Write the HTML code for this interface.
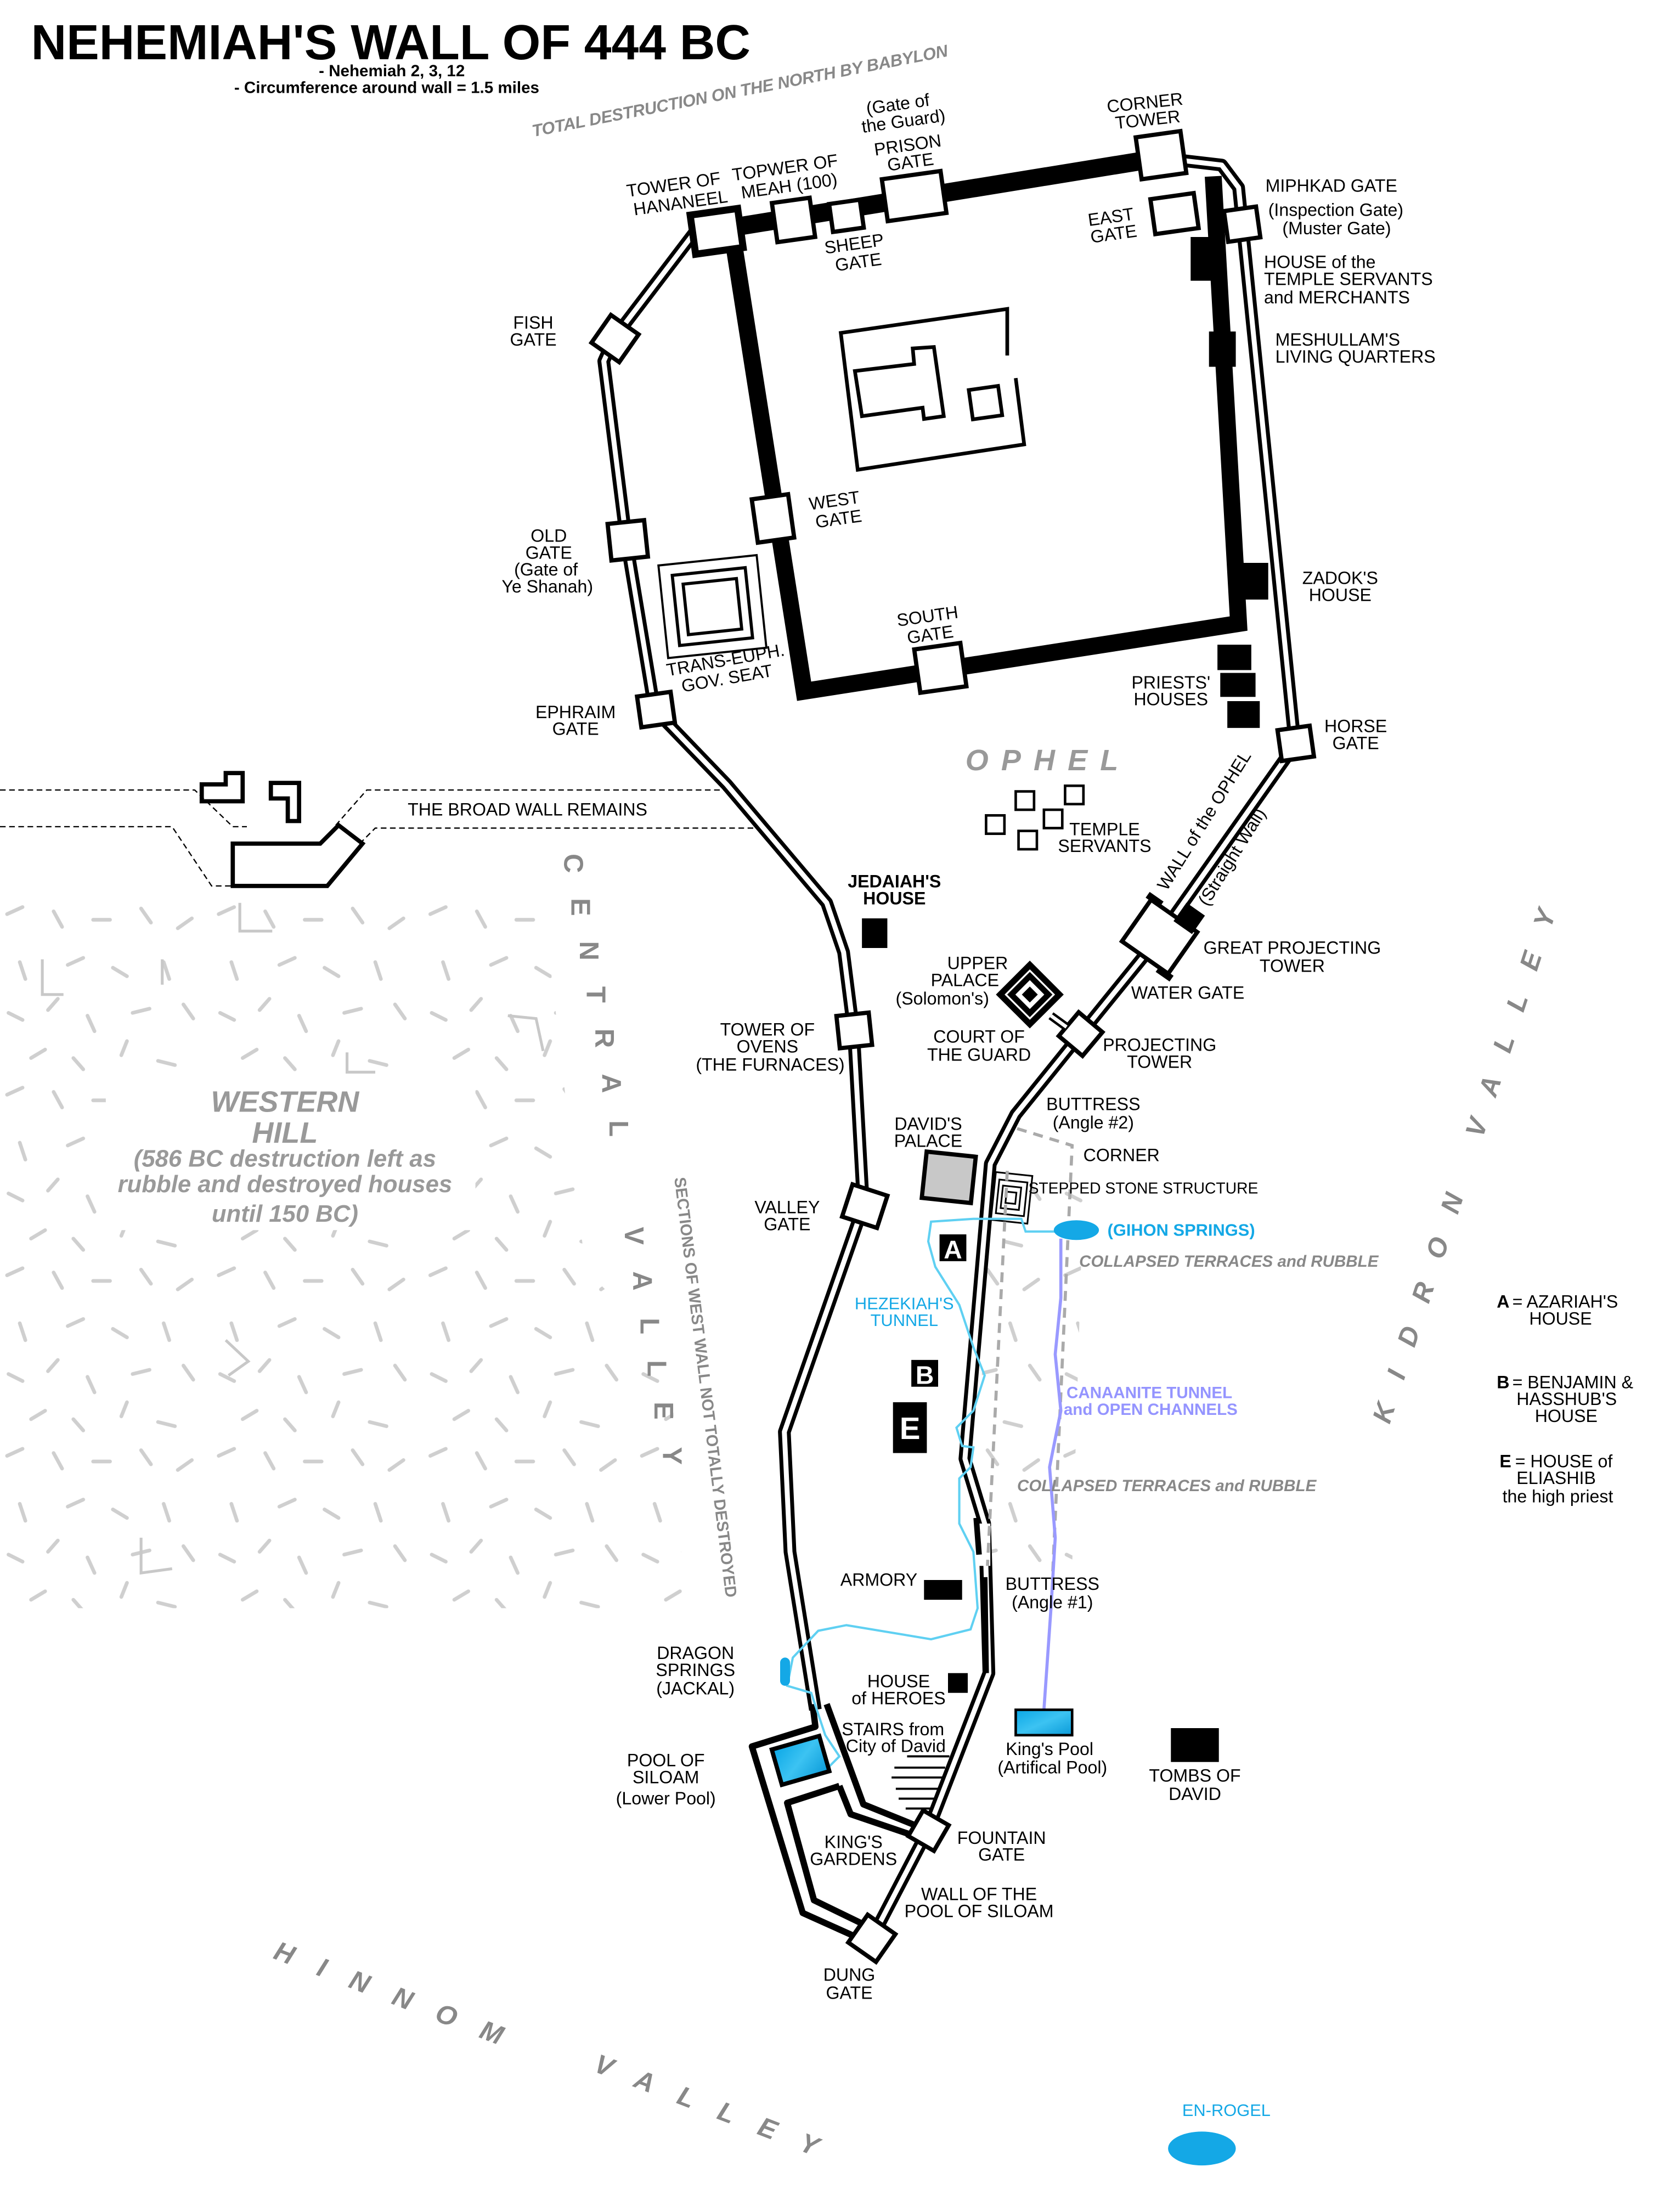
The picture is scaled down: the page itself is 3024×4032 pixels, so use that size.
<!DOCTYPE html>
<html><head><meta charset="utf-8"><style>
html,body{margin:0;padding:0;background:#fff}
svg{display:block}
text{font-family:"Liberation Sans",Arial,sans-serif}
</style></head><body>
<svg width="3024" height="4032" viewBox="0 0 1176 1568" xmlns="http://www.w3.org/2000/svg">
<rect width="1176" height="1568" fill="#fff"/>
<defs>
<linearGradient id="wat" x1="0" y1="0" x2="1" y2="1"><stop offset="0" stop-color="#0aa7e6"/><stop offset="0.5" stop-color="#3cc3f2"/><stop offset="1" stop-color="#0a9ad8"/></linearGradient>
<pattern id="rp" width="150" height="128" patternUnits="userSpaceOnUse">
<g stroke="#cfcfcf" stroke-width="2.6" stroke-linecap="round" fill="none">
<line x1="5" y1="8" x2="16" y2="3"/><line x1="38" y1="6" x2="44" y2="17"/><line x1="66" y1="12" x2="78" y2="12"/>
<line x1="100" y1="4" x2="107" y2="14"/><line x1="126" y1="18" x2="136" y2="11"/><line x1="14" y1="42" x2="18" y2="54"/>
<line x1="48" y1="44" x2="59" y2="39"/><line x1="80" y1="46" x2="90" y2="52"/><line x1="116" y1="42" x2="120" y2="54"/>
<line x1="6" y1="78" x2="16" y2="83"/><line x1="34" y1="76" x2="41" y2="68"/><line x1="62" y1="80" x2="67" y2="91"/>
<line x1="94" y1="78" x2="106" y2="75"/><line x1="130" y1="72" x2="137" y2="82"/><line x1="22" y1="110" x2="32" y2="104"/>
<line x1="52" y1="110" x2="59" y2="118"/><line x1="86" y1="108" x2="90" y2="98"/><line x1="112" y1="112" x2="124" y2="115"/>
</g>
</pattern>
</defs>

<!-- rubble -->
<path d="M0 640 L385 640 L415 900 L475 960 L485 1140 L0 1140 Z" fill="url(#rp)"/>
<rect x="75" y="766" width="262" height="106" fill="#fff"/>
<path d="M700 840 L768 840 L760 1110 L692 1110 Z" fill="url(#rp)"/>
<g fill="none" stroke="#c8c8c8" stroke-width="2">
<path d="M30 680 L30 705 L45 705 M170 640 L170 660 L193 660 M100 1090 L100 1115 L122 1112 M246 746 L246 760 L266 760 M360 720 L380 722 L385 745 M115 680 L115 698 M160 950 L176 965 L162 975"/>
</g>

<!-- title -->
<text x="22" y="42" font-size="35" font-weight="bold" textLength="510" lengthAdjust="spacingAndGlyphs">NEHEMIAH'S WALL OF 444 BC</text>
<text x="226" y="54" font-size="11.5" font-weight="bold">- Nehemiah 2, 3, 12</text>
<text x="166" y="66" font-size="11.5" font-weight="bold">- Circumference around wall = 1.5 miles</text>
<text x="378" y="97" font-size="12" font-style="italic" font-weight="bold" fill="#888" transform="rotate(-11 378 97)" textLength="300">TOTAL DESTRUCTION ON THE NORTH BY BABYLON</text>

<!-- broad wall -->
<g fill="none" stroke="#000" stroke-width="0.9" stroke-dasharray="4 2.5">
<path d="M0 560 L138 560 L165 586 L175 586"/>
<path d="M0 586 L122 586 L150 628 L165 628"/>
<path d="M238 585 L260 560 L520 560"/>
<path d="M255 598 L266 587 L540 587"/>
</g>
<g fill="none" stroke="#000" stroke-width="3">
<path d="M143 556 L160 556 L160 548 L172 548 L172 568 L143 568 Z"/>
<path d="M192 555 L212 555 L212 582 L204 582 L204 566 L192 566 Z"/>
<path d="M165 598 L227 598 L240 585 L257 598 L232 628 L165 628 Z"/>
</g>
<text x="289" y="578" font-size="12.5">THE  BROAD  WALL  REMAINS</text>

<!-- outer double walls -->
<g fill="none" stroke-linejoin="round">
<g stroke="#000" stroke-width="9">
<path id="w1" d="M496 160 L435 240 L428 256 L444 383 L464 503 L515 556 L586 640 L598 675 L605 730 L612 855 L556 1015 L560 1100 L578 1212"/>
<path id="w2" d="M840 114 L866 117 L878 133 L918 528 L822 664 L766 733 L720 790 L702 825 L684 1034 L698 1080 L701 1186 L658 1297 L618 1374"/>
</g>
<g stroke="#fff" stroke-width="3.5">
<use href="#w1"/><use href="#w2"/>
</g>
<g stroke="#000" stroke-width="4.5">
<path d="M576 1208 L578 1224 L533 1238 L569 1356 L609 1374"/>
<path d="M586 1208 L612 1279 L654 1296"/>
<path d="M595 1266 L558 1278 L577 1347 L612 1364"/>
<path d="M595 1266 L603 1286 L650 1302"/>
</g>
</g>
<rect x="690" y="1080" width="12" height="30" fill="#fff"/>
<path d="M692 1076 L694 1102" stroke="#000" stroke-width="4"/>
<path d="M698 1118 L699 1186" stroke="#000" stroke-width="4"/>

<!-- top wall and inner temple enclosure -->
<g fill="none" stroke="#000" stroke-linejoin="miter">
<path d="M508 163 L822 112" stroke-width="13"/>
<path d="M520 172 L570 490 L878 442 L860 125" stroke-width="12"/>
</g>
<g fill="#000">
<rect x="844" y="168" width="24" height="31"/>
<rect x="857" y="235" width="19" height="25"/>
<rect x="878" y="399" width="21" height="26"/>
<rect x="863" y="457" width="24" height="18"/>
<rect x="865" y="477" width="25" height="17"/>
<rect x="870" y="497" width="23" height="19"/>
</g>

<!-- temple -->
<g fill="none" stroke="#000" stroke-width="2.6">
<path d="M714 252 L714 219 L596 236 L608 333 L726 315 L720 268"/>
<path d="M606 263 L648 258 L647 247 L662 246 L669 295 L655 297 L654 289 L611 295 Z"/>
<rect x="688" y="275" width="21" height="21" transform="rotate(-8 698 285)"/>
</g>

<!-- trans-euph seat -->
<g fill="none" stroke="#000" stroke-width="1.5" transform="rotate(-6 505 430)">
<rect x="470" y="397" width="70" height="66"/>
<rect x="479" y="405" width="52" height="50" stroke-width="2.2"/>
<rect x="486" y="412" width="38" height="36" stroke-width="2.2"/>
</g>

<!-- gates -->
<g fill="#fff" stroke="#000" stroke-width="3">
<rect x="491" y="150" width="34" height="28" stroke-width="5" transform="rotate(-8 508 164)"/>
<rect x="549" y="142" width="27" height="28" transform="rotate(-8 562 156)"/>
<rect x="589" y="143" width="22" height="20" transform="rotate(-8 600 153)"/>
<rect x="627" y="124" width="42" height="30" transform="rotate(-8 648 139)"/>
<rect x="807" y="95" width="32" height="30" transform="rotate(-8 823 110)"/>
<rect x="817" y="139" width="31" height="25" transform="rotate(-8 832 151)"/>
<rect x="869" y="148" width="23" height="22" transform="rotate(-8 880 159)"/>
<rect x="424" y="228" width="24" height="24" transform="rotate(35 436 240)"/>
<rect x="432" y="370" width="26" height="26" transform="rotate(-6 445 383)"/>
<rect x="535" y="352" width="26" height="31" transform="rotate(-8 548 368)"/>
<rect x="453" y="492" width="24" height="22" transform="rotate(-8 465 503)"/>
<rect x="650" y="458" width="33" height="31" transform="rotate(-8 666 473)"/>
<rect x="907" y="516" width="23" height="22" transform="rotate(-8 918 527)"/>
<rect x="594" y="719" width="23" height="23" transform="rotate(-6 605 730)"/>
<rect x="600" y="843" width="26" height="24" transform="rotate(18 613 855)"/>
<rect x="755" y="722" width="22" height="22" transform="rotate(40 766 733)"/>
<rect x="648" y="1287" width="21" height="21" transform="rotate(30 658 1297)"/>
<rect x="606" y="1362" width="24" height="24" transform="rotate(35 618 1374)"/>
</g>
<!-- great projecting tower -->
<g transform="rotate(35 822 664)">
<rect x="802" y="646" width="40" height="36" fill="#fff" stroke="#000" stroke-width="3"/>
<rect x="798" y="642" width="12" height="5" fill="#000"/>
<rect x="834" y="681" width="12" height="5" fill="#000"/>
</g>
<rect x="835" y="643" width="16" height="16" fill="#000" transform="rotate(35 843 651)"/>

<!-- upper palace -->
<g transform="rotate(45 730 705)">
<rect x="713" y="688" width="34" height="34" fill="#000"/>
<rect x="718" y="693" width="24" height="24" fill="none" stroke="#fff" stroke-width="1.3"/>
<rect x="722" y="697" width="16" height="16" fill="#fff" stroke="#000" stroke-width="1.5"/>
<rect x="726" y="701" width="8" height="8" fill="#000"/>
</g>
<path d="M745 720 L756 728" stroke="#000" stroke-width="6"/>
<path d="M745 720 L756 728" stroke="#fff" stroke-width="2.5"/>

<!-- temple servants squares -->
<g fill="#fff" stroke="#000" stroke-width="1.8">
<rect x="720" y="561" width="13" height="13"/><rect x="755" y="557" width="13" height="13"/>
<rect x="699" y="578" width="13" height="13"/><rect x="740" y="574" width="13" height="13"/>
<rect x="722" y="589" width="13" height="13"/>
</g>

<!-- black houses -->
<g fill="#000">
<rect x="611" y="651" width="18" height="21"/>
<rect x="655" y="1120" width="27" height="14"/>
<rect x="672" y="1186" width="14" height="14"/>
<rect x="830" y="1225" width="34" height="24"/>
<rect x="666" y="875" width="19" height="19"/>
<rect x="646" y="964" width="19" height="19"/>
<rect x="633" y="994" width="24" height="36"/>
</g>
<g fill="#fff" font-weight="bold" text-anchor="middle">
<text x="675.5" y="892" font-size="18">A</text>
<text x="655.5" y="981" font-size="18">B</text>
<text x="645" y="1020" font-size="22">E</text>
</g>

<!-- David's palace -->
<rect x="655" y="818" width="35" height="33" fill="#c8c8c8" stroke="#000" stroke-width="3" transform="rotate(6 672 835)"/>
<!-- stepped stone -->
<g fill="none" stroke="#000" stroke-width="1.2" transform="rotate(6 716 850)">
<rect x="704" y="832" width="26" height="34" fill="#fff"/><rect x="707" y="837" width="20" height="24"/><rect x="710" y="841" width="13" height="16"/><rect x="713" y="845" width="7" height="8"/>
</g>

<!-- grey dashed corridor -->
<g fill="none" stroke="#aaa" stroke-width="2.2" stroke-dasharray="7 5">
<path d="M721 800 L760 812 L746 1120"/>
<path d="M714 830 L700 1110"/>
</g>

<!-- water -->
<g fill="none" stroke="#5fd0f2" stroke-width="1.6">
<path d="M755 873 L727 873 L724 864 L690 864 L660 866 L658 880 L663 898 L680 925 L690 955 L698 975 L690 1000 L678 1012 L682 1025 L690 1026 L688 1040 L680 1048 L680 1080 L690 1100 L693 1140 L688 1155 L660 1162 L600 1152 L580 1156 L562 1175 L558 1195 L575 1200 L585 1230 L595 1245 L585 1255"/>
</g>
<path d="M752 878 L752 920 L748 960 L752 1000 L744 1040 L748 1090 L745 1140 L740 1212" fill="none" stroke="#9999ff" stroke-width="2.2"/>
<ellipse cx="763" cy="872" rx="16" ry="7" fill="#14a8e6"/>
<rect x="720" y="1212" width="40" height="18" fill="url(#wat)" stroke="#000" stroke-width="1.8"/>
<rect x="550" y="1235" width="35" height="26" fill="url(#wat)" stroke="#000" stroke-width="3" transform="rotate(-16 567 1248)"/>
<rect x="553" y="1175" width="7" height="20" rx="3.5" fill="#14a8e6"/>
<ellipse cx="852" cy="1523" rx="24" ry="12" fill="#14a8e6"/>

<!-- stairs -->
<g stroke="#000" stroke-width="1.5">
<line x1="643" y1="1245" x2="673" y2="1245"/><line x1="634" y1="1253" x2="670" y2="1253"/>
<line x1="632" y1="1260" x2="668" y2="1260"/><line x1="635" y1="1268" x2="665" y2="1268"/>
<line x1="637" y1="1275" x2="662" y2="1275"/><line x1="642" y1="1282" x2="660" y2="1282"/>
</g>

<!-- labels -->
<g font-size="12.5" text-anchor="middle">
<text x="478" y="135" transform="rotate(-8 478 135)">TOWER OF</text><text x="483" y="148" transform="rotate(-8 483 148)">HANANEEL</text>
<text x="557" y="123" transform="rotate(-8 557 123)">TOPWER OF</text><text x="560" y="136" transform="rotate(-8 560 136)">MEAH (100)</text>
<text x="637" y="78" transform="rotate(-8 637 78)">(Gate of</text><text x="641" y="90" transform="rotate(-8 641 90)">the Guard)</text>
<text x="644" y="107" transform="rotate(-8 644 107)">PRISON</text><text x="646" y="119" transform="rotate(-8 646 119)">GATE</text>
<text x="812" y="77" transform="rotate(-6 812 77)">CORNER</text><text x="814" y="89" transform="rotate(-6 814 89)">TOWER</text>
<text x="606" y="177" transform="rotate(-8 606 177)">SHEEP</text><text x="609" y="190" transform="rotate(-8 609 190)">GATE</text>
<text x="788" y="158" transform="rotate(-8 788 158)">EAST</text><text x="790" y="170" transform="rotate(-8 790 170)">GATE</text>
<text x="592" y="359" transform="rotate(-8 592 359)">WEST</text><text x="595" y="372" transform="rotate(-8 595 372)">GATE</text>
<text x="658" y="441" transform="rotate(-8 658 441)">SOUTH</text><text x="660" y="454" transform="rotate(-8 660 454)">GATE</text>
<text x="515" y="472" transform="rotate(-10 515 472)">TRANS-EUPH.</text><text x="516" y="485" transform="rotate(-10 516 485)">GOV.  SEAT</text>
<text x="378" y="233">FISH</text><text x="378" y="245">GATE</text>
<text x="389" y="384">OLD</text><text x="389" y="396">GATE</text><text x="387" y="408">(Gate of</text><text x="388" y="420">Ye Shanah)</text>
<text x="408" y="509">EPHRAIM</text><text x="408" y="521">GATE</text>
<text x="830" y="488">PRIESTS'</text><text x="830" y="500">HOUSES</text>
<text x="961" y="519">HORSE</text><text x="961" y="531">GATE</text>
<text x="950" y="414">ZADOK'S</text><text x="950" y="426">HOUSE</text>
<text x="783" y="592">TEMPLE</text><text x="783" y="604">SERVANTS</text>
<text x="634" y="629" font-weight="bold">JEDAIAH'S</text><text x="634" y="641" font-weight="bold">HOUSE</text>
<text x="693" y="687">UPPER</text><text x="684" y="699">PALACE</text><text x="668" y="712">(Solomon's)</text>
<text x="694" y="739">COURT OF</text><text x="694" y="752">THE GUARD</text>
<text x="544" y="734">TOWER  OF</text><text x="544" y="746">OVENS</text><text x="546" y="759">(THE  FURNACES)</text>
<text x="916" y="676">GREAT PROJECTING</text><text x="916" y="689">TOWER</text>
<text x="842" y="708">WATER GATE</text>
<text x="822" y="745">PROJECTING</text><text x="822" y="757">TOWER</text>
<text x="775" y="787">BUTTRESS</text><text x="775" y="800">(Angle #2)</text>
<text x="658" y="801">DAVID'S</text><text x="658" y="813">PALACE</text>
<text x="558" y="860">VALLEY</text><text x="558" y="872">GATE</text>
<text x="795" y="823">CORNER</text>
<text x="623" y="1124">ARMORY</text>
<text x="746" y="1127">BUTTRESS</text><text x="746" y="1140">(Angle #1)</text>
<text x="493" y="1176">DRAGON</text><text x="493" y="1188">SPRINGS</text><text x="493" y="1201">(JACKAL)</text>
<text x="637" y="1196">HOUSE</text><text x="637" y="1208">of HEROES</text>
<text x="633" y="1230">STAIRS from</text><text x="635" y="1242">City of David</text>
<text x="472" y="1252">POOL OF</text><text x="472" y="1264">SILOAM</text><text x="472" y="1279">(Lower Pool)</text>
<text x="744" y="1244">King's Pool</text><text x="746" y="1257">(Artifical Pool)</text>
<text x="847" y="1263">TOMBS OF</text><text x="847" y="1276">DAVID</text>
<text x="605" y="1310">KING'S</text><text x="605" y="1322">GARDENS</text>
<text x="710" y="1307">FOUNTAIN</text><text x="710" y="1319">GATE</text>
<text x="694" y="1347">WALL OF THE</text><text x="694" y="1359">POOL OF SILOAM</text>
<text x="602" y="1404">DUNG</text><text x="602" y="1417">GATE</text>
</g>
<g font-size="12.5">
<text x="897" y="136">MIPHKAD GATE</text>
<text x="899" y="153">(Inspection Gate)</text><text x="909" y="166">(Muster Gate)</text>
<text x="896" y="190">HOUSE of the</text><text x="896" y="202">TEMPLE SERVANTS</text><text x="896" y="215">and MERCHANTS</text>
<text x="904" y="245">MESHULLAM'S</text><text x="904" y="257">LIVING QUARTERS</text>
<text x="827" y="632" transform="rotate(-58 827 632)">WALL of the OPHEL</text>
<text x="856" y="643" transform="rotate(-58 856 643)">(Straight Wall)</text>
<text x="729" y="846" font-size="11">STEPPED STONE STRUCTURE</text>
<text x="1072" y="927">= AZARIAH'S</text><text x="1084" y="939">HOUSE</text>
<text x="1072" y="984">= BENJAMIN &amp;</text><text x="1075" y="996">HASSHUB'S</text><text x="1088" y="1008">HOUSE</text>
<text x="1074" y="1040">= HOUSE of</text><text x="1075" y="1052">ELIASHIB</text><text x="1065" y="1065">the high priest</text>
</g>
<g font-size="12.5" font-weight="bold">
<text x="1061" y="927">A</text><text x="1061" y="984">B</text><text x="1063" y="1040">E</text>
</g>
<g font-size="12" fill="#14a8e6">
<text x="785" y="876" font-weight="bold">(GIHON SPRINGS)</text>
<text x="641" y="928" text-anchor="middle">HEZEKIAH'S</text><text x="641" y="940" text-anchor="middle">TUNNEL</text>
<text x="838" y="1500">EN-ROGEL</text>
</g>
<g font-size="11.5" fill="#9494ff" font-weight="bold">
<text x="756" y="991">CANAANITE TUNNEL</text><text x="754" y="1003">and OPEN CHANNELS</text>
</g>
<g font-size="11.5" fill="#888" font-style="italic" font-weight="bold">
<text x="765" y="898">COLLAPSED TERRACES and RUBBLE</text>
<text x="721" y="1057">COLLAPSED TERRACES and RUBBLE</text>
</g>
<g fill="#999" font-weight="bold" font-style="italic" text-anchor="middle">
<text x="202" y="788" font-size="21">WESTERN</text>
<text x="202" y="810" font-size="21">HILL</text>
<text x="202" y="827" font-size="17">(586 BC destruction left as</text>
<text x="202" y="845" font-size="17">rubble and destroyed houses</text>
<text x="202" y="866" font-size="17">until 150 BC)</text>
<text x="743" y="546" font-size="21" letter-spacing="9">OPHEL</text>
</g>
<text x="478" y="835" font-size="11.5" font-weight="bold" fill="#888" transform="rotate(83 478 835)" textLength="300" lengthAdjust="spacingAndGlyphs">SECTIONS OF WEST WALL NOT TOTALLY DESTROYED</text>

<!-- valley labels -->
<g fill="#888" font-weight="bold" font-style="italic" font-size="19">
<text x="985" y="1010" transform="rotate(-72 985 1010)" letter-spacing="19">KIDRON   VALLEY</text>
<text x="193" y="1388" transform="rotate(21 193 1388)" letter-spacing="19">HINNOM</text>
<text x="420" y="1468" transform="rotate(21 420 1468)" letter-spacing="19">VALLEY</text>
</g>
<g fill="#888" font-weight="bold" font-size="19" text-anchor="middle">
<text transform="translate(400,612) rotate(90)">C</text>
<text transform="translate(405,643) rotate(90)">E</text>
<text transform="translate(411,674) rotate(90)">N</text>
<text transform="translate(416,705) rotate(90)">T</text>
<text transform="translate(422,736) rotate(90)">R</text>
<text transform="translate(427,768) rotate(90)">A</text>
<text transform="translate(432,800) rotate(90)">L</text>
<text transform="translate(443,876) rotate(90)">V</text>
<text transform="translate(449,908) rotate(90)">A</text>
<text transform="translate(454,940) rotate(90)">L</text>
<text transform="translate(459,970) rotate(90)">L</text>
<text transform="translate(464,1000) rotate(90)">E</text>
<text transform="translate(470,1032) rotate(90)">Y</text>
</g>
</svg>
</body></html>
